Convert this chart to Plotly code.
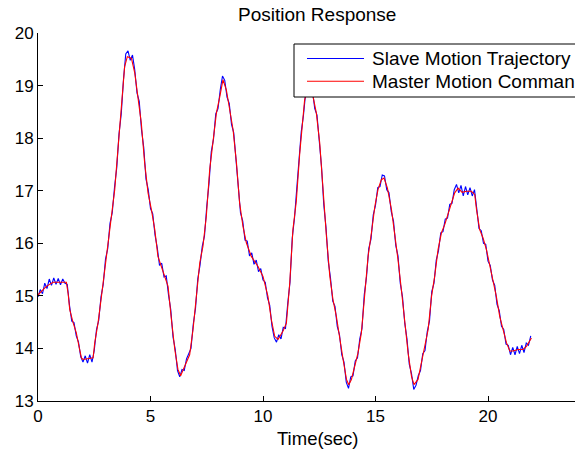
import numpy as np
import plotly.graph_objects as go

# Master motion command (red), read at knot times
t_master = [0.0, 0.37, 0.67, 1.26, 1.34, 1.41, 1.56, 1.70, 1.85, 1.93, 2.0, 2.45, 2.52, 2.67, 2.82,
            2.96, 3.11, 3.26, 3.41, 3.48, 3.63, 3.78, 3.85, 3.97, 4.15, 4.30, 4.45, 4.59, 4.74, 4.89,
            5.04, 5.19, 5.33, 5.48, 5.63, 5.78, 5.93, 6.08, 6.22, 6.34, 6.52, 6.74, 6.89, 7.04, 7.19,
            7.33, 7.48, 7.63, 7.78, 7.93, 8.08, 8.22, 8.37, 8.52, 8.67, 8.82, 8.96, 9.11, 9.26, 9.48,
            9.78, 10.0, 10.22, 10.37, 10.52, 10.67, 10.89, 11.04, 11.19, 11.33, 11.48, 11.63, 11.71,
            11.85, 12.0, 12.1, 12.22, 12.37, 12.52, 12.67, 12.82, 12.97, 13.11, 13.26, 13.41, 13.56,
            13.71, 13.81, 13.93, 14.08, 14.22, 14.37, 14.52, 14.67, 14.82, 14.97, 15.11, 15.26, 15.38,
            15.53, 15.71, 15.85, 16.0, 16.15, 16.3, 16.45, 16.6, 16.71, 16.89, 17.04, 17.19, 17.34,
            17.49, 17.63, 17.78, 17.93, 18.08, 18.23, 18.37, 18.52, 18.67, 18.85, 19.04, 19.26, 19.41,
            19.49, 19.63, 19.78, 19.93, 20.08, 20.23, 20.37, 20.52, 20.67, 20.82, 20.97, 21.11, 21.34,
            21.56, 21.71, 21.93]
y_master = [15.02, 15.18, 15.26, 15.26, 15.04, 14.74, 14.49, 14.30, 13.98, 13.82, 13.79, 13.82, 14.10,
            14.49, 14.99, 15.50, 16.00, 16.51, 17.02, 17.40, 18.16, 18.92, 19.36, 19.55, 19.52, 19.24,
            18.79, 18.29, 17.53, 16.96, 16.64, 16.26, 15.75, 15.56, 15.40, 15.18, 14.55, 13.98, 13.60,
            13.48, 13.66, 13.88, 14.36, 14.99, 15.63, 15.94, 16.51, 17.40, 17.97, 18.48, 18.79, 19.11,
            18.92, 18.54, 18.16, 17.53, 16.77, 16.32, 16.01, 15.75, 15.56, 15.37, 14.99, 14.55, 14.23,
            14.17, 14.33, 14.48, 15.25, 16.26, 16.80, 17.70, 18.10, 18.73, 18.95, 19.00, 18.80, 18.48,
            17.91, 16.96, 16.13, 15.37, 14.93, 14.61, 14.17, 13.79, 13.41, 13.31, 13.41, 13.66, 13.91,
            14.29, 15.06, 15.75, 16.20, 16.70, 17.02, 17.21, 17.24, 17.05, 16.64, 16.20, 15.69, 15.12,
            14.55, 13.91, 13.47, 13.31, 13.41, 13.72, 14.00, 14.36, 14.99, 15.37, 15.88, 16.20, 16.36,
            16.58, 16.77, 16.96, 17.05, 16.97, 16.99, 16.99, 16.93, 16.64, 16.26, 16.10, 15.88, 15.56,
            15.31, 14.99, 14.61, 14.36, 14.11, 13.95, 13.95, 13.98, 13.98, 14.04, 14.20]

# Slave motion trajectory (blue), read every 0.1 s
t_slave = [round(i * 0.1, 1) for i in range(220)]
y_slave = [
    14.98, 15.12, 15.04, 15.24, 15.14, 15.32, 15.20, 15.34, 15.22, 15.33,
    15.21, 15.32, 15.24, 15.22, 14.82, 14.52, 14.49, 14.24, 14.12, 13.84,
    13.74, 13.86, 13.72, 13.88, 13.74, 13.96, 14.36, 14.54, 14.98, 15.22,
    15.70, 15.90, 16.38, 16.58, 17.06, 17.44, 18.08, 18.46, 19.12, 19.60,
    19.66, 19.48, 19.58, 19.30, 18.86, 18.70, 18.16, 17.82, 17.22, 17.02,
    16.66, 16.56, 16.16, 15.92, 15.58, 15.62, 15.36, 15.38, 15.02, 14.74,
    14.22, 13.98, 13.58, 13.46, 13.60, 13.58, 13.80, 13.90, 14.00, 14.46,
    14.76, 15.32, 15.58, 15.94, 16.14, 16.70, 17.14, 17.74, 17.98, 18.46,
    18.56, 18.92, 19.18, 19.10, 18.78, 18.66, 18.26, 18.10, 17.54, 17.16,
    16.58, 16.42, 16.06, 16.04, 15.76, 15.82, 15.60, 15.68, 15.46, 15.52,
    15.30, 15.26, 14.96, 14.82, 14.42, 14.20, 14.12, 14.26, 14.18, 14.40,
    14.38, 14.86, 15.26, 16.10, 16.48, 17.04, 17.54, 18.12, 18.44, 18.88,
    18.90, 19.06, 18.90, 18.56, 18.44, 17.92, 17.46, 16.74, 16.30, 15.66,
    15.34, 14.90, 14.80, 14.42, 14.26, 13.88, 13.74, 13.36, 13.24, 13.46,
    13.48, 13.76, 13.82, 14.18, 14.38, 15.02, 15.36, 15.90, 16.08, 16.54,
    16.72, 17.06, 17.08, 17.30, 17.28, 17.02, 16.96, 16.60, 16.42, 15.96,
    15.76, 15.24, 14.98, 14.48, 14.18, 13.70, 13.52, 13.22, 13.30, 13.48,
    13.58, 13.90, 13.96, 14.32, 14.52, 15.08, 15.24, 15.68, 15.86, 16.20,
    16.22, 16.46, 16.48, 16.74, 16.76, 17.02, 17.12, 16.96, 17.10, 16.90,
    17.08, 16.92, 17.06, 16.90, 17.02, 16.66, 16.28, 16.24, 16.00, 15.98,
    15.66, 15.58, 15.30, 15.20, 14.84, 14.72, 14.42, 14.36, 14.08, 14.06,
    13.88, 14.02, 13.88, 14.04, 13.90, 14.06, 13.92, 14.10, 14.06, 14.24,
]

series_names = ["Slave Motion Trajectory", "Master Motion Command"]
series_colors = ["#0000FF", "#FF0000"]
x_ticks = [0, 5, 10, 15, 20]
y_ticks = [13, 14, 15, 16, 17, 18, 19, 20]

FONT = "Liberation Sans, Arial, sans-serif"

fig = go.Figure()
fig.add_trace(go.Scatter(x=t_slave, y=y_slave, mode="lines", name=series_names[0],
                         line=dict(color=series_colors[0], width=1.1)))
fig.add_trace(go.Scatter(x=t_master, y=y_master, mode="lines", name=series_names[1],
                         line=dict(color=series_colors[1], width=1.1)))

W, H = 575, 450
L, T, B = 38, 33, 49
pw = W - L
ph = H - T - B


def px_x(x):
    return (x - L) / pw


def px_y(y):
    return (H - B - y) / ph


fig.update_layout(
    width=W, height=H,
    margin=dict(l=L, r=0, t=T, b=B, pad=0, autoexpand=False),
    paper_bgcolor="white", plot_bgcolor="white",
    font=dict(family=FONT, size=17, color="black"),
    showlegend=False,
    xaxis=dict(range=[0, pw / 22.5], tickvals=x_ticks, ticks="inside", ticklen=5,
               tickcolor="black", showline=True, linecolor="black", linewidth=1,
               showgrid=False, zeroline=False, tickfont=dict(size=17)),
    yaxis=dict(range=[13, 20], tickvals=y_ticks, ticks="inside", ticklen=5,
               tickcolor="black", showline=True, linecolor="black", linewidth=1,
               showgrid=False, zeroline=False, tickfont=dict(size=17)),
)

# Legend box (opaque, extends past the right edge as in the reference)
fig.add_shape(type="rect", xref="paper", yref="paper", x0=px_x(294), x1=px_x(620),
              y0=px_y(97), y1=px_y(44), line=dict(color="black", width=1),
              fillcolor="white", layer="above")
for i, (name, col) in enumerate(zip(series_names, series_colors)):
    yy = 58.5 + i * 22.8
    fig.add_shape(type="line", xref="paper", yref="paper", x0=px_x(307), x1=px_x(364),
                  y0=px_y(yy), y1=px_y(yy), line=dict(color=col, width=1.1), layer="above")
    fig.add_annotation(text=name, x=px_x(370), y=px_y(yy), xref="paper", yref="paper",
                       showarrow=False, xanchor="left", yanchor="middle",
                       font=dict(family=FONT, size=19, color="black"))

fig.add_annotation(text="Position Response", x=px_x(317), y=1, xref="paper", yref="paper",
                   yshift=19, showarrow=False, font=dict(family=FONT, size=19, color="black"),
                   xanchor="center", yanchor="middle")
fig.add_annotation(text="Time(sec)", x=px_x(318), y=0, xref="paper", yref="paper",
                   yshift=-37, showarrow=False, font=dict(family=FONT, size=18.5, color="black"),
                   xanchor="center", yanchor="middle")

fig.write_html("out.html", config={"displayModeBar": False},
               post_script="document.body.style.margin='0px';")
